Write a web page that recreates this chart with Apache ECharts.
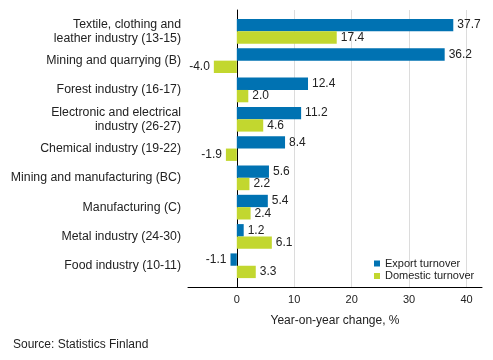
<!DOCTYPE html>
<html>
<head>
<meta charset="utf-8">
<script src="https://cdn.jsdelivr.net/npm/echarts@6/dist/echarts.min.js"></script>
<style>html,body{margin:0;padding:0;background:#fff;}#c{width:493px;height:360px;}</style>
</head>
<body>
<div id="c"></div>
<script>
const categories = [
  "Textile, clothing and\nleather industry (13-15)",
  "Mining and quarrying (B)",
  "Forest industry (16-17)",
  "Electronic and electrical\nindustry (26-27)",
  "Chemical industry (19-22)",
  "Mining and manufacturing (BC)",
  "Manufacturing (C)",
  "Metal industry (24-30)",
  "Food industry (10-11)"
];
const exportTurnover = [37.7, 36.2, 12.4, 11.2, 8.4, 5.6, 5.4, 1.2, -1.1];
const domesticTurnover = [17.4, -4.0, 2.0, 4.6, -1.9, 2.2, 2.4, 6.1, 3.3];
const seriesNames = ["Export turnover", "Domestic turnover"];
const axisTitle = "Year-on-year change, %";
const sourceText = "Source: Statistics Finland";

const FONT = "Liberation Sans, Arial, sans-serif";
const xMin = -8.5, xMax = 42.7;

function items(arr) {
  return arr.map(v => ({ value: v, label: { position: v < 0 ? 'left' : 'right' } }));
}

const chart = echarts.init(document.getElementById('c'), null, { renderer: 'canvas' });
chart.setOption({
  animation: false,
  backgroundColor: '#fff',
  textStyle: { fontFamily: FONT },
  title: {
    text: sourceText, left: 8, top: 334,
    textStyle: { fontSize: 12, fontWeight: 'normal', color: '#222', fontFamily: FONT }
  },
  legend: {
    orient: 'vertical', left: 369, top: 253,
    itemWidth: 6, itemHeight: 6, itemGap: 1.5,
    icon: 'rect',
    textStyle: { fontSize: 11, color: '#222', fontFamily: FONT },
    data: seriesNames
  },
  grid: [
    { left: 188, right: 11, top: 16.7, bottom: 79.6 },
    { left: 188, right: 11, top: 10, bottom: 73 }
  ],
  xAxis: [
    { gridIndex: 0, type: 'value', min: xMin, max: xMax, show: false },
    {
      gridIndex: 1, type: 'value', min: xMin, max: xMax,
      axisLine: { show: true, onZero: true, lineStyle: { color: '#000', width: 1 } },
      axisTick: { show: false },
      axisLabel: { fontSize: 11, color: '#222', margin: 7, showMinLabel: false, showMaxLabel: false, fontFamily: FONT },
      splitLine: { show: true, showMinLine: false, showMaxLine: false, lineStyle: { color: '#dcdcdc', width: 1 } },
      name: axisTitle, nameLocation: 'middle', nameGap: 28,
      nameTextStyle: { fontSize: 12, color: '#222', fontFamily: FONT }
    }
  ],
  yAxis: [
    {
      gridIndex: 0, type: 'category', data: categories, inverse: true,
      axisLine: { show: false, onZero: false },
      axisTick: { show: false },
      axisLabel: { fontSize: 12.3, color: '#222', margin: 7, lineHeight: 14, fontFamily: FONT },
      splitLine: { show: false }
    },
    {
      gridIndex: 1, type: 'value', min: 0, max: 1,
      axisLine: { show: true, onZero: true, lineStyle: { color: '#000', width: 1 } },
      axisTick: { show: false }, axisLabel: { show: false }, splitLine: { show: false }
    }
  ],
  series: [
    {
      name: seriesNames[0], type: 'bar', xAxisIndex: 0, yAxisIndex: 0,
      data: items(exportTurnover),
      barGap: '0%', barCategoryGap: '15.7%',
      itemStyle: { color: '#0072B2' },
      label: { show: true, distance: 4, fontSize: 12, color: '#222', fontFamily: FONT,
        formatter: p => p.value.toFixed(1) }
    },
    {
      name: seriesNames[1], type: 'bar', xAxisIndex: 0, yAxisIndex: 0,
      data: items(domesticTurnover),
      barGap: '0%', barCategoryGap: '15.7%',
      itemStyle: { color: '#C2D72F' },
      label: { show: true, distance: 4, fontSize: 12, color: '#222', fontFamily: FONT,
        formatter: p => p.value.toFixed(1) }
    }
  ]
});
</script>
</body>
</html>
